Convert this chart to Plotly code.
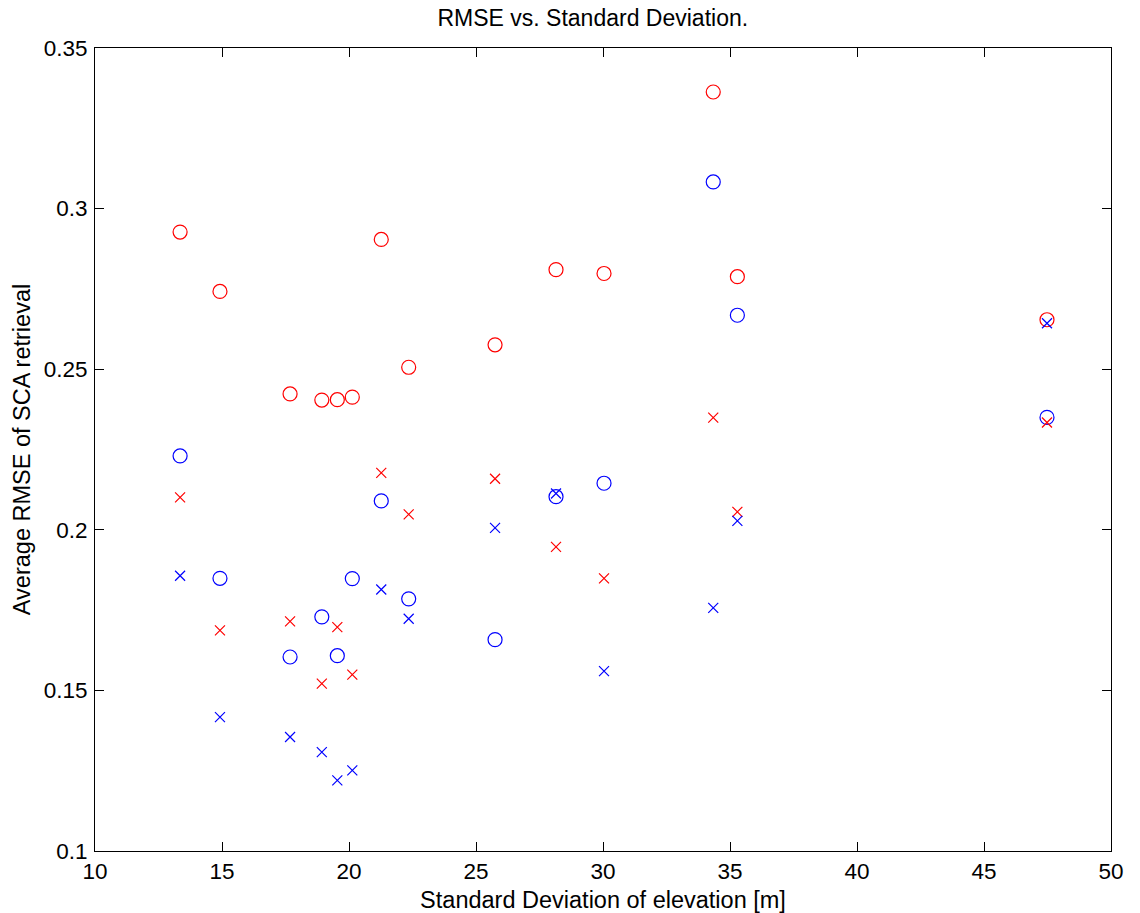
import plotly.graph_objects as go

# Standard deviation of elevation [m]
std_dev = [13.35, 14.92, 17.68, 18.93, 19.54, 20.13, 21.27, 22.35,
           25.75, 28.15, 30.04, 34.34, 35.29, 47.48]

red_circle = [0.2927, 0.2742, 0.2423, 0.2404, 0.2405, 0.2413, 0.2904, 0.2506,
              0.2576, 0.2810, 0.2798, 0.3363, 0.2788, 0.2654]
blue_circle = [0.2230, 0.1849, 0.1604, 0.1729, 0.1608, 0.1848, 0.2090, 0.1785,
               0.1658, 0.2103, 0.2145, 0.3083, 0.2668, 0.2350]
red_cross = [0.2101, 0.1687, 0.1715, 0.1521, 0.1697, 0.1549, 0.2177, 0.2048,
             0.2159, 0.1947, 0.1849, 0.2349, 0.2056, 0.2334]
blue_cross = [0.1857, 0.1417, 0.1355, 0.1308, 0.1220, 0.1251, 0.1814, 0.1723,
              0.2006, 0.2113, 0.1560, 0.1757, 0.2028, 0.2643]

x_ticks = [10, 15, 20, 25, 30, 35, 40, 45, 50]
y_ticks = [0.1, 0.15, 0.2, 0.25, 0.3, 0.35]
y_tick_labels = ["0.1", "0.15", "0.2", "0.25", "0.3", "0.35"]

FONT = "Liberation Sans, Arial, sans-serif"

fig = go.Figure()

series = [
    (red_circle, "circle-open", "#ff0000", 14),
    (blue_circle, "circle-open", "#0000ff", 14),
    (red_cross, "x-thin-open", "#ff0000", 10),
    (blue_cross, "x-thin-open", "#0000ff", 10),
]
for ys, sym, col, sz in series:
    fig.add_trace(go.Scatter(
        x=std_dev, y=ys, mode="markers",
        marker=dict(symbol=sym, size=sz, color=col,
                    line=dict(color=col, width=1.2)),
        showlegend=False, hoverinfo="x+y",
    ))

axis_common = dict(
    showgrid=False, zeroline=False, showline=True, linecolor="black",
    linewidth=1, mirror="ticks", ticks="inside", ticklen=9, tickwidth=1,
    tickcolor="black", tickfont=dict(family=FONT, size=22.5, color="black"),
    automargin=False,
)

fig.update_layout(
    width=1140, height=913,
    margin=dict(l=95, r=29, t=48, b=62, autoexpand=False),
    paper_bgcolor="white", plot_bgcolor="white",
    font=dict(family=FONT, size=22.5, color="black"),
    title=dict(text="RMSE vs. Standard Deviation.", x=0.52, xanchor="center",
               y=0.989, yanchor="top",
               font=dict(family=FONT, size=23, color="black")),
    xaxis=dict(range=[10, 50], tickvals=x_ticks,
               title=dict(text="Standard Deviation of elevation [m]",
                          font=dict(family=FONT, size=23.5), standoff=8),
               **axis_common),
    yaxis=dict(range=[0.1, 0.35], tickvals=y_ticks, ticktext=y_tick_labels,
               ticklabelstandoff=2,
               title=dict(text="Average RMSE of SCA retrieval",
                          font=dict(family=FONT, size=23.5), standoff=6),
               **axis_common),
)

fig.write_html("out.html")
